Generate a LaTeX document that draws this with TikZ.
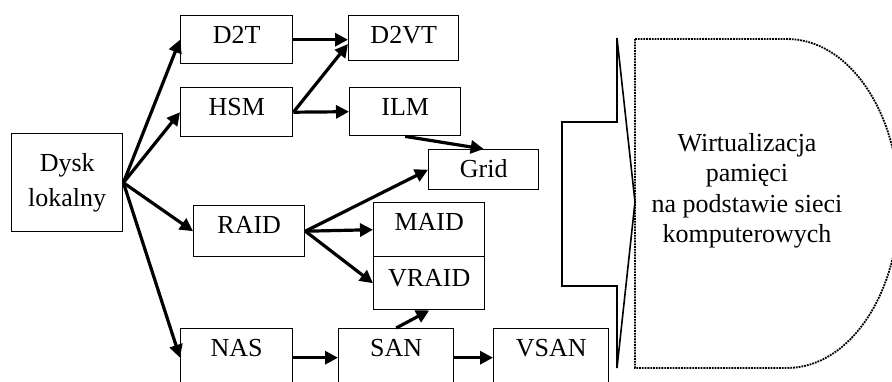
\documentclass[tikz,border=0pt]{standalone}
\usepackage{fontspec}
\setmainfont{Liberation Serif}
\usetikzlibrary{arrows.meta}

\begin{document}
\begin{tikzpicture}[x=1pt,y=-1pt,
    box/.style={draw,line width=1.4pt,inner sep=0pt,anchor=north west,
      text height=28pt,text depth=#1,minimum width=112pt,
      font=\fontsize{26}{30}\selectfont},
    box/.default=20pt,
    link/.style={line width=3.2pt,-{Triangle[length=13pt,width=13pt]}}]
  \useasboundingbox (0,0) rectangle (892,381);
  \clip (0,0) rectangle (892,381);
  \node[draw,line width=1.4pt,anchor=north west,minimum width=111pt,minimum height=98pt,
    align=center,font=\fontsize{26}{35}\selectfont] (dysk) at (11,133) {Dysk\\lokalny};
  \node[box=20pt] (d2t) at (180,15) {D2T};
  \node[box=17pt,minimum width=110pt] (d2vt) at (348,15) {D2VT};
  \node[box=21pt] (hsm) at (180,87) {HSM};
  \node[box=20pt,minimum width=111pt] (ilm) at (349,87) {ILM};
  \node[box=12pt,minimum width=110pt] (grid) at (428,149) {Grid};
  \node[box=23pt,minimum width=111pt] (raid) at (193,205) {RAID};
  \node[box=26pt,minimum width=111pt] (maid) at (373,202) {MAID};
  \node[box=23pt,text height=30pt,minimum width=111pt] (vraid) at (373,256) {VRAID};
  \node[box=30pt] (nas) at (180,328) {NAS};
  \node[box=30pt,minimum width=115pt] (san) at (338,328) {SAN};
  \node[box=30pt,minimum width=115pt] (vsan) at (493,328) {VSAN};
  \draw[link] (dysk.east) -- (d2t.west);
  \draw[link] (dysk.east) -- (hsm.west);
  \draw[link] (dysk.east) -- (raid.west);
  \draw[link] (dysk.east) -- (nas.west);
  \draw[link] (d2t.east) -- (d2t.east -| d2vt.west);
  \draw[link] (hsm.east) -- (d2vt.186);
  \draw[link] (hsm.east) -- (ilm.west);
  \draw[link] (ilm.south) -- (grid.north);
  \draw[link] (raid.east) -- (grid.west);
  \draw[link] (raid.east) -- (maid.west);
  \draw[link] (raid.east) -- (vraid.west);
  \draw[link] (nas.east) -- (san.west);
  \draw[link] (san.north) -- (vraid.south);
  \draw[link] (san.east) -- (vsan.west);
  \draw[line width=1.6pt,line join=miter] (562,122) -- (617,122) -- (617,38) -- (635,202)
    -- (617,368) -- (617,286) -- (562,286) -- cycle;
  \draw[line width=1.8pt,densely dotted] (635,39) -- (787,39)
    arc[start angle=-90,end angle=90,x radius=112,y radius=164.5] -- (635,368) -- cycle;
  \node[align=center,font=\fontsize{26}{30.5}\selectfont] (virt) at (747,191)
    {Wirtualizacja\\pamięci\\na podstawie sieci\\komputerowych};
\end{tikzpicture}
\end{document}
